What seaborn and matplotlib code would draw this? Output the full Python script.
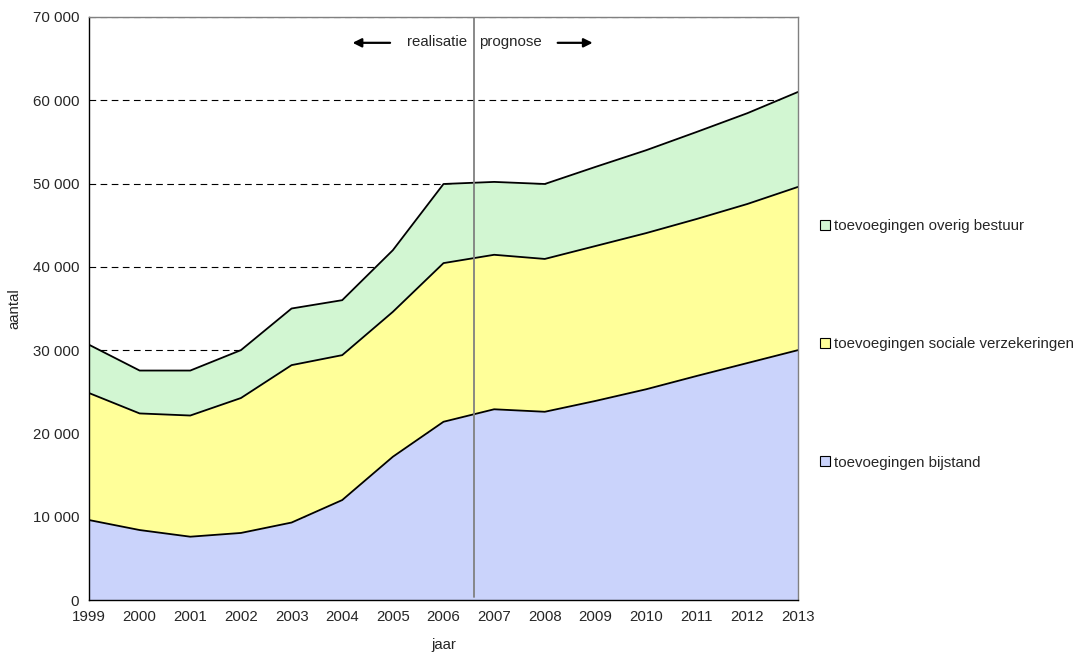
import numpy as np
import pandas as pd
import matplotlib
matplotlib.use("Agg")
import matplotlib.pyplot as plt
import seaborn as sns
from matplotlib.patches import Patch

years = [1999, 2000, 2001, 2002, 2003, 2004, 2005, 2006, 2007, 2008, 2009, 2010, 2011, 2012, 2013]
bijstand = [9600, 8400, 7600, 8050, 9300, 12000, 17200, 21400, 22900, 22600, 23900, 25300, 26900, 28450, 30000]
sociale = [15250, 14000, 14550, 16200, 18900, 17400, 17400, 19050, 18550, 18350, 18600, 18750, 18850, 19100, 19600]
overig = [5800, 5150, 5400, 5750, 6800, 6600, 7400, 9500, 8750, 9000, 9500, 9950, 10450, 10900, 11400]
labels = ["toevoegingen bijstand", "toevoegingen sociale verzekeringen", "toevoegingen overig bestuur"]
colors = ["#CAD3FB", "#FFFF99", "#D2F6D2"]

sns.set_theme(style="white")
plt.rcParams['font.family'] = ['Liberation Sans', 'DejaVu Sans']
FS = 10.8

fig = plt.figure(figsize=(10.79, 6.55), dpi=100)
ax = fig.add_axes([89/1079, 55/655, 709/1079, 583/655])

for yv in range(10000, 70001, 10000):
    ax.axhline(yv, color="black", lw=0.8, ls=(0, (6, 4)), zorder=0)

ax.stackplot(years, bijstand, sociale, overig, colors=colors, zorder=1, lw=0)

cum1 = np.array(bijstand)
cum2 = cum1 + np.array(sociale)
cum3 = cum2 + np.array(overig)
df = pd.DataFrame({"jaar": years * 3,
                   "waarde": np.concatenate([cum1, cum2, cum3]),
                   "reeks": ["a"] * 15 + ["b"] * 15 + ["c"] * 15})
sns.lineplot(data=df, x="jaar", y="waarde", units="reeks", estimator=None,
             color="black", lw=1.3, ax=ax, zorder=2, legend=False)

ax.axvline(2006.6, ymin=0.005, ymax=1, color="#808080", lw=1.3, zorder=3)

ax.set_xlim(1999, 2013)
ax.set_ylim(0, 70000)
ax.set_xticks(years)
ax.set_xticklabels([str(y) for y in years], fontsize=FS)
yt = list(range(0, 70001, 10000))
ax.set_yticks(yt)
ax.set_yticklabels([f"{v:,}".replace(",", " ") for v in yt], fontsize=FS)
ax.tick_params(axis="both", direction="out", length=4, width=0.8, color="black", pad=3)
ax.set_xlabel("jaar", fontsize=FS, labelpad=10)
ax.set_ylabel("aantal", fontsize=FS, labelpad=8)

for s in ["left", "bottom"]:
    ax.spines[s].set_color("black")
    ax.spines[s].set_linewidth(1.0)
for s in ["top", "right"]:
    ax.spines[s].set_color("#808080")
    ax.spines[s].set_linewidth(1.0)

ax.text(2006.46, 67000, "realisatie", ha="right", va="center", fontsize=FS)
ax.text(2006.7, 67000, "prognose", ha="left", va="center", fontsize=FS)
ax.annotate("", xy=(2004.15, 66900), xytext=(2005.0, 66900),
            arrowprops=dict(arrowstyle="-|>", color="black", lw=1.6, mutation_scale=13))
ax.annotate("", xy=(2009.0, 66900), xytext=(2008.2, 66900),
            arrowprops=dict(arrowstyle="-|>", color="black", lw=1.6, mutation_scale=13))

handles = [Patch(facecolor=colors[i], edgecolor="black", lw=0.8) for i in [2, 1, 0]]
fig.legend(handles, [labels[i] for i in [2, 1, 0]], loc="upper left",
           bbox_to_anchor=(814/1079, 1 - 213/655), frameon=False, fontsize=FS,
           handlelength=0.65, handleheight=0.65, handletextpad=0.3, labelspacing=6.95,
           borderaxespad=0)

fig.savefig("out.png", dpi=100)
